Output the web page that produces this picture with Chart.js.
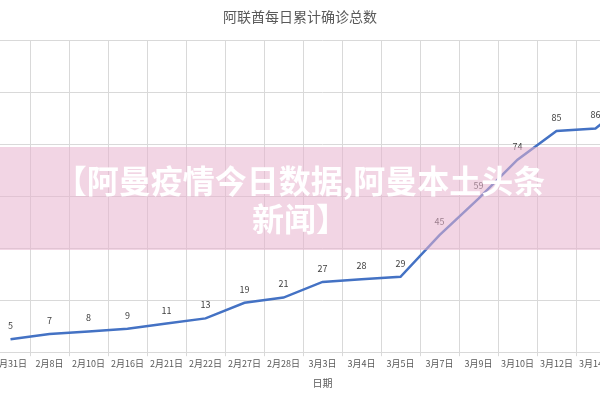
<!DOCTYPE html>
<html><head><meta charset="utf-8">
<script src="https://cdn.jsdelivr.net/npm/chart.js@4"></script>
<style>
body{margin:0;width:600px;height:400px;overflow:hidden;background:#fff;position:relative;font-family:"Noto Sans CJK SC",sans-serif}
#wrap{position:absolute;left:-29.5px;top:0;width:700px;height:400px}
#title{position:absolute;top:6px;left:0;width:600px;text-align:center;font-size:14px;color:#595959}
#banner{position:absolute;left:0;top:147px;width:600px;height:103px;background:rgba(232,178,206,0.55);color:#fff;font-weight:bold;font-size:32px;line-height:38px;text-align:center;padding-top:13px;box-sizing:border-box;white-space:nowrap}
</style></head><body>
<div id="wrap"><canvas id="c" width="700" height="400"></canvas></div>
<div id="title">阿联酋每日累计确诊总数</div>
<div id="banner">【阿曼疫情今日数据,阿曼本土头条<br>新闻】</div>
<script>
const categories=["1月31日","2月8日","2月10日","2月16日","2月21日","2月22日","2月27日","2月28日","3月3日","3月4日","3月5日","3月7日","3月9日","3月10日","3月12日","3月14日","3月15日"];
const values=[5,7,8,9,11,13,19,21,27,28,29,45,59,74,85,86,98];
const labelPlugin={id:'lbl',afterDatasetsDraw(ch){const ctx=ch.ctx;const m=ch.getDatasetMeta(0);ctx.save();ctx.font='9px "Noto Sans CJK SC",sans-serif';ctx.fillStyle='#404040';ctx.textAlign='center';ctx.textBaseline='bottom';m.data.forEach((p,i)=>ctx.fillText(values[i],p.x,p.y-9));ctx.restore();}};
new Chart(document.getElementById('c'),{type:'line',data:{labels:categories,datasets:[{data:values,borderColor:'#4472C4',borderWidth:2.5,pointRadius:0,tension:0}]},
options:{responsive:false,animation:false,layout:{padding:{left:20,right:17,top:40,bottom:7}},plugins:{legend:{display:false},title:{display:false},tooltip:{enabled:false}},
scales:{y:{display:true,min:0,max:120,ticks:{display:false,stepSize:20},grid:{color:'#d9d9d9',drawTicks:false},border:{display:false}},
x:{offset:true,grid:{color:'#d9d9d9',offset:true,drawTicks:true,tickLength:4},border:{color:'#d9d9d9'},ticks:{color:'#595959',font:{size:9,family:'"Noto Sans CJK SC"'},maxRotation:0,autoSkip:false,padding:2},title:{display:true,text:'日期',color:'#595959',font:{size:10,family:'"Noto Sans CJK SC"'},padding:{top:6,bottom:4}}}}},plugins:[labelPlugin]});
</script></body></html>
